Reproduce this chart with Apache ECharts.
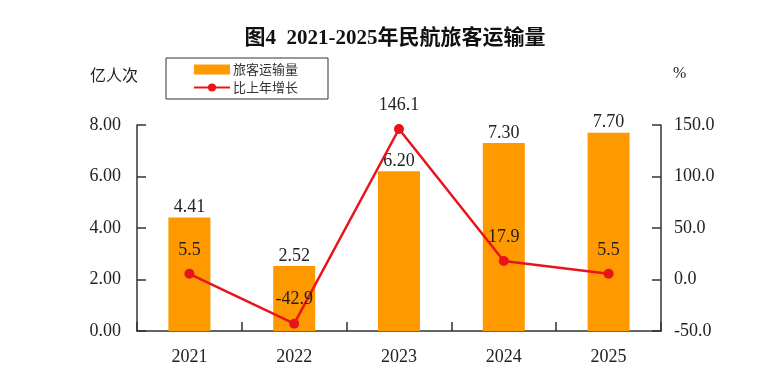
<!DOCTYPE html>
<html><head><meta charset="utf-8">
<script src="https://cdn.jsdelivr.net/npm/echarts@6/dist/echarts.min.js"></script>
<style>html,body{margin:0;padding:0;background:#fff}#c{width:767px;height:379px}</style>
</head><body><div id="c"></div>
<script>
const categories = ['2021','2022','2023','2024','2025'];
const passengers = [4.41, 2.52, 6.20, 7.30, 7.70];
const growth = [5.5, -42.9, 146.1, 17.9, 5.5];
const leftTicks = {min:0, max:8, interval:2};
const rightTicks = {min:-50, max:150, interval:50};
const serif = '"Liberation Serif","DejaVu Serif",serif';
const cjk = '"Liberation Serif","Noto Sans CJK SC",serif';
const chart = echarts.init(document.getElementById('c'), null, {renderer:'canvas'});
chart.setOption({
  animation:false,
  title:{text:'图4  2021-2025年民航旅客运输量', left:390, top:23, textAlign:'center',
    textStyle:{fontFamily:cjk, fontSize:21, fontWeight:'bold', color:'#111'}},
  legend:{orient:'vertical', left:166, top:58, itemGap:5, itemWidth:36, itemHeight:10,
    padding:[5,30,5,27], borderColor:'#333', borderWidth:1,
    textStyle:{fontFamily:'"Noto Sans CJK SC",sans-serif', fontSize:13, color:'#333', padding:[0,0,0,-2]},
    data:[{name:'旅客运输量', icon:'rect'}, {name:'比上年增长'}]},
  graphic:[
    {type:'text', left:90, top:67, style:{text:'亿人次', font:'16px "Noto Sans CJK SC",sans-serif', fill:'#222'}},
    {type:'text', left:673, top:66, style:{text:'%', font:'16px '+serif, fill:'#222'}}
  ],
  grid:{left:137, right:106, top:125, bottom:48},
  xAxis:{type:'category', data:categories,
    axisLine:{lineStyle:{color:'#333', width:1.5}},
    axisTick:{show:true, inside:true, length:9, lineStyle:{color:'#333', width:1.5}},
    axisLabel:{fontFamily:serif, fontSize:18, color:'#222', margin:17}},
  yAxis:[
    {type:'value', min:leftTicks.min, max:leftTicks.max, interval:leftTicks.interval,
      axisLine:{show:true, lineStyle:{color:'#333', width:1.5}},
      axisTick:{show:true, inside:true, length:9, lineStyle:{color:'#333', width:1.5}},
      splitLine:{show:false},
      axisLabel:{fontFamily:serif, fontSize:18, color:'#222', margin:16, formatter:v=>v.toFixed(2)}},
    {type:'value', min:rightTicks.min, max:rightTicks.max, interval:rightTicks.interval, position:'right',
      axisLine:{show:true, lineStyle:{color:'#333', width:1.5}},
      axisTick:{show:true, inside:true, length:9, lineStyle:{color:'#333', width:1.5}},
      splitLine:{show:false},
      axisLabel:{fontFamily:serif, fontSize:18, color:'#222', margin:13, formatter:v=>v.toFixed(1)}}
  ],
  series:[
    {name:'旅客运输量', type:'bar', data:passengers, barWidth:42, yAxisIndex:0,
      itemStyle:{color:'#FF9900'},
      label:{show:true, position:'top', distance:1, fontFamily:serif, fontSize:18, color:'#222', formatter:p=>p.value.toFixed(2)}},
    {name:'比上年增长', type:'line', data:growth, yAxisIndex:1, z:5,
      symbol:'circle', symbolSize:10,
      lineStyle:{color:'#E8141C', width:2.5}, itemStyle:{color:'#E8141C'},
      label:{show:true, position:'top', distance:10, fontFamily:serif, fontSize:18, color:'#222', formatter:p=>p.value.toFixed(1)}}
  ]
});
</script></body></html>
